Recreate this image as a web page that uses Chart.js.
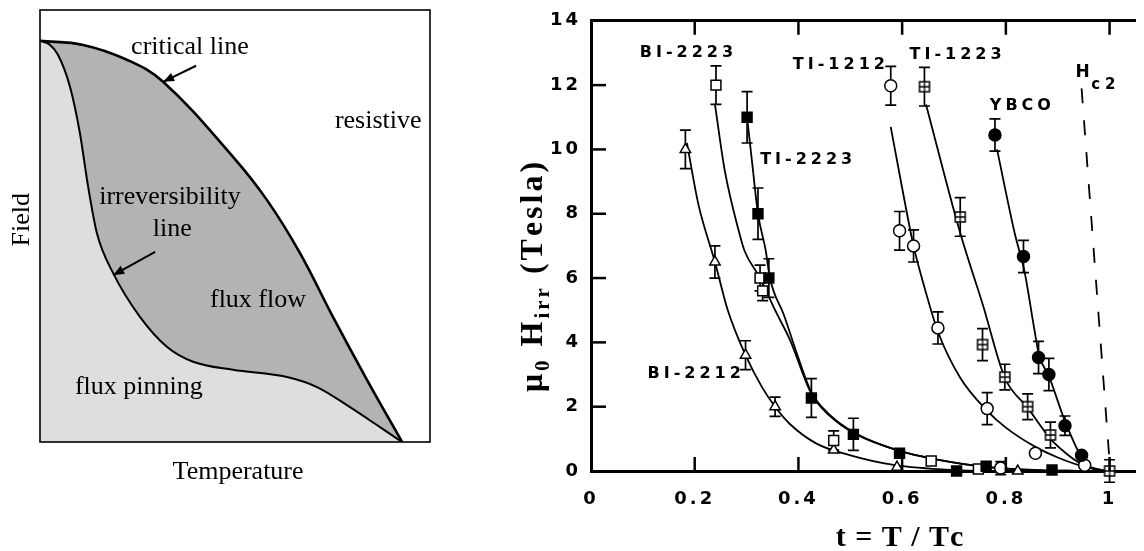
<!DOCTYPE html>
<html><head><meta charset="utf-8">
<script src="https://cdn.jsdelivr.net/npm/chart.js@4.4.0/dist/chart.umd.min.js"></script>
<style>
html,body{margin:0;padding:0;background:#fff;width:1144px;height:551px;overflow:hidden}
#left{position:absolute;left:0;top:0}
#right{position:absolute;left:470px;top:0}
</style></head><body>
<canvas id="left" width="470" height="551"></canvas>
<canvas id="right" width="674" height="551"></canvas>
<script>
// ================= LEFT PANEL (schematic phase diagram) =================
const critT = [0, 0.119, 0.24, 0.34, 0.533, 0.627, 0.718, 0.809, 0.903, 1];
const critH = [1, 0.99, 0.953, 0.898, 0.711, 0.603, 0.471, 0.312, 0.155, 0];
const irrT = [0, 0.025, 0.05, 0.083, 0.11, 0.133, 0.157, 0.202, 0.276, 0.351, 0.423, 0.533, 0.682, 0.765, 0.856, 0.939, 1];
const irrH = [1, 0.992, 0.965, 0.885, 0.771, 0.636, 0.521, 0.421, 0.312, 0.237, 0.2, 0.18, 0.162, 0.137, 0.087, 0.037, 0];

// ================= RIGHT PANEL (irreversibility fields) =================
const xTickLabels = ['0', '0.2', '0.4', '0.6', '0.8', '1'];
const yTickLabels = ['0', '2', '4', '6', '8', '10', '12', '14'];

// measured points
const bi2212T = [0.182, 0.239, 0.298, 0.355, 0.468, 0.590, 0.823];
const bi2212H = [10.0, 6.5, 3.6, 2.0, 0.65, 0.12, 0.0];
const bi2212E = [0.6, 0.5, 0.45, 0.3, 0, 0, 0];

const bi2223T = [0.241, 0.326, 0.331, 0.468, 0.656, 0.747];
const bi2223H = [12.0, 6.0, 5.6, 0.95, 0.31, 0.06];
const bi2223E = [0.6, 0.4, 0.3, 0.3, 0, 0];

const tl2223T = [0.301, 0.322, 0.343, 0.425, 0.506, 0.595, 0.705, 0.762, 0.889];
const tl2223H = [11.0, 8.0, 6.0, 2.27, 1.14, 0.55, 0.0, 0.15, 0.03];
const tl2223E = [0.8, 0.8, 0.6, 0.6, 0.5, 0, 0, 0, 0];

const tl1212T = [0.578, 0.595, 0.622, 0.669, 0.764, 0.79, 0.857, 0.952];
const tl1212H = [11.98, 7.47, 7.0, 4.45, 1.94, 0.09, 0.55, 0.18];
const tl1212E = [0.6, 0.6, 0.5, 0.5, 0.5, 0.2, 0, 0];

const tl1223T = [0.643, 0.712, 0.755, 0.798, 0.842, 0.886, 1.0];
const tl1223H = [11.95, 7.9, 3.93, 2.92, 2.0, 1.12, 0.0];
const tl1223E = [0.6, 0.6, 0.5, 0.4, 0.4, 0.4, 0.35];

const ybcoT = [0.779, 0.834, 0.863, 0.883, 0.914, 0.946];
const ybcoH = [10.45, 6.67, 3.53, 3.0, 1.41, 0.49];
const ybcoE = [0.5, 0.5, 0.5, 0.5, 0.3, 0];

// fitted curves
const fitBi2212T = [0.185, 0.207, 0.239, 0.263, 0.298, 0.33, 0.355, 0.383, 0.434, 0.497, 0.586, 0.70, 0.80];
const fitBi2212H = [10.2, 8.3, 6.5, 5.04, 3.6, 2.6, 2.0, 1.47, 0.86, 0.5, 0.18, 0.03, 0.0];
const fitBi2223T = [0.239, 0.258, 0.286, 0.296, 0.326, 0.355, 0.383, 0.425, 0.46, 0.51, 0.60, 0.66, 0.76, 0.86, 0.95];
const fitBi2223H = [11.4, 9.34, 7.4, 6.85, 6.0, 5.0, 4.1, 2.4, 1.72, 1.15, 0.6, 0.38, 0.13, 0.03, 0.0];
const fitTl2223T = [0.301, 0.312, 0.322, 0.337, 0.345, 0.372, 0.396, 0.425, 0.46, 0.51, 0.60, 0.66, 0.76, 0.86, 0.95];
const fitTl2223H = [11.0, 9.4, 8.0, 6.85, 6.0, 4.85, 3.7, 2.45, 1.75, 1.17, 0.6, 0.38, 0.13, 0.03, 0.0];
const fitTl1212T = [0.578, 0.60, 0.622, 0.645, 0.669, 0.712, 0.764, 0.80, 0.857, 0.90, 0.952, 1.0];
const fitTl1212H = [10.7, 8.8, 7.0, 5.6, 4.33, 2.9, 1.87, 1.35, 0.75, 0.42, 0.13, 0.0];
const fitTl1223T = [0.646, 0.712, 0.756, 0.798, 0.842, 0.886, 0.92, 0.946, 0.99];
const fitTl1223H = [11.4, 7.4, 5.15, 2.9, 1.97, 1.0, 0.5, 0.22, 0.0];
const fitYbcoT = [0.783, 0.817, 0.836, 0.855, 0.864, 0.883, 0.914, 0.946, 0.97, 0.99];
const fitYbcoH = [10.0, 7.4, 6.2, 4.4, 3.6, 2.95, 1.55, 0.43, 0.05, 0.0];
const hc2T = [0.946, 0.999];
const hc2H = [11.9, 0.5];

// text annotations (anchor in data units)
const seriesLabels = [
  {text: 'BI-2223', t: 0.184, h: 13.0},
  {text: 'TI-2223', t: 0.415, h: 9.68},
  {text: 'TI-1212', t: 0.478, h: 12.63},
  {text: 'TI-1223', t: 0.703, h: 12.93},
  {text: 'YBCO', t: 0.828, h: 11.34},
  {text: 'BI-2212', t: 0.199, h: 3.01}
];

function pts(ts, hs) { return ts.map((t, i) => ({x: t, y: hs[i]})); }

function drawSpaced(ctx, text, x, y, sp) {
  const chars = [...text];
  const w = chars.map(c => ctx.measureText(c).width);
  const total = w.reduce((a, b) => a + b, 0) + sp * (chars.length - 1);
  let cx = x - total / 2;
  ctx.textAlign = 'left';
  chars.forEach((c, i) => { ctx.fillText(c, cx, y); cx += w[i] + sp; });
}

function arrow(ctx, x0, y0, x1, y1) {
  ctx.beginPath(); ctx.moveTo(x0, y0); ctx.lineTo(x1, y1); ctx.stroke();
  const a = Math.atan2(y1 - y0, x1 - x0), L = 11, W = 4.5;
  ctx.beginPath();
  ctx.moveTo(x1, y1);
  ctx.lineTo(x1 - L * Math.cos(a) + W * Math.sin(a), y1 - L * Math.sin(a) - W * Math.cos(a));
  ctx.lineTo(x1 - L * Math.cos(a) - W * Math.sin(a), y1 - L * Math.sin(a) + W * Math.cos(a));
  ctx.closePath(); ctx.fill();
}

// ---------- left chart ----------
const leftDecor = {
  id: 'leftDecor',
  afterDraw(chart) {
    const ctx = chart.ctx, a = chart.chartArea, X = chart.scales.x, Y = chart.scales.y;
    const px = v => X.getPixelForValue(v), py = v => Y.getPixelForValue(v);
    ctx.save();
    ctx.strokeStyle = '#000'; ctx.lineWidth = 1.6;
    ctx.strokeRect(a.left, a.top, a.right - a.left, a.bottom - a.top);
    ctx.fillStyle = '#000';
    ctx.font = '26px "Liberation Serif", "Times New Roman", serif';
    ctx.textAlign = 'center'; ctx.textBaseline = 'middle';
    ctx.fillText('critical line', px(0.414), py(0.985));
    ctx.fillText('resistive', px(0.934), py(0.80));
    ctx.fillText('irreversibility', px(0.359), py(0.611));
    ctx.fillText('line', px(0.365), py(0.531));
    ctx.fillText('flux flow', px(0.602), py(0.354));
    ctx.fillText('flux pinning', px(0.273), py(0.137));
    ctx.fillText('Temperature', px(0.547), py(-0.075));
    ctx.save();
    ctx.translate(px(-0.05), py(0.554)); ctx.rotate(-Math.PI / 2);
    ctx.fillText('Field', 0, 0);
    ctx.restore();
    ctx.lineWidth = 2;
    arrow(ctx, px(0.431), py(0.938), px(0.340), py(0.898));
    arrow(ctx, px(0.318), py(0.474), px(0.202), py(0.416));
    ctx.restore();
  }
};

new Chart(document.getElementById('left'), {
  type: 'line',
  data: {datasets: [
    {data: pts(irrT, irrH), borderColor: '#000', borderWidth: 2, backgroundColor: '#dedede', fill: 'origin',
     pointRadius: 0, cubicInterpolationMode: 'monotone'},
    {data: pts(critT, critH), borderColor: '#000', borderWidth: 2.6, backgroundColor: '#b3b3b3', fill: 'origin',
     pointRadius: 0, tension: 0.4}
  ]},
  options: {
    responsive: false, animation: false, events: [],
    layout: {padding: {left: 40, right: 40, top: 10, bottom: 109}},
    scales: {
      x: {type: 'linear', min: 0, max: 1.077, display: false},
      y: {type: 'linear', min: 0, max: 1.077, display: false}
    },
    plugins: {legend: {display: false}, tooltip: {enabled: false}}
  },
  plugins: [leftDecor]
});

// ---------- right chart ----------
function crossedSquare() {
  const c = document.createElement('canvas'); c.width = 14; c.height = 14;
  const g = c.getContext('2d');
  g.fillStyle = '#fff'; g.fillRect(2, 2, 10, 10);
  g.strokeStyle = '#000'; g.lineWidth = 1.5; g.strokeRect(2, 2, 10, 10);
  g.lineWidth = 1.3;
  g.beginPath(); g.moveTo(7, 2); g.lineTo(7, 12); g.moveTo(2, 7); g.lineTo(12, 7); g.stroke();
  return c;
}

function markers(ts, hs, errs, style, fillColor, radius) {
  return {data: pts(ts, hs), errors: errs, showLine: false, pointStyle: style, pointRadius: radius,
    pointBorderWidth: 1.5, pointBorderColor: '#000', pointBackgroundColor: fillColor, clip: false};
}
function curve(ts, hs, dash) {
  return {data: pts(ts, hs), borderColor: '#000', borderWidth: 1.8, pointRadius: 0, fill: false,
    cubicInterpolationMode: 'monotone', borderDash: dash || []};
}

const rightDecor = {
  id: 'rightDecor',
  beforeDraw(chart) { chart.ctx.letterSpacing = '3px'; },
  beforeDatasetsDraw(chart) {
    const ctx = chart.ctx, X = chart.scales.x, Y = chart.scales.y;
    ctx.save();
    ctx.letterSpacing = '0px';
    ctx.strokeStyle = '#000'; ctx.lineWidth = 1.7;
    chart.data.datasets.forEach(ds => {
      if (!ds.errors) return;
      ds.data.forEach((p, i) => {
        const e = ds.errors[i]; if (!e) return;
        const x = X.getPixelForValue(p.x), y0 = Y.getPixelForValue(p.y - e), y1 = Y.getPixelForValue(p.y + e);
        ctx.beginPath();
        ctx.moveTo(x, y0); ctx.lineTo(x, y1);
        ctx.moveTo(x - 5.5, y0); ctx.lineTo(x + 5.5, y0);
        ctx.moveTo(x - 5.5, y1); ctx.lineTo(x + 5.5, y1);
        ctx.stroke();
      });
    });
    ctx.restore();
  },
  afterDraw(chart) {
    const ctx = chart.ctx, a = chart.chartArea, X = chart.scales.x, Y = chart.scales.y, X2 = chart.scales.x2;
    ctx.save();
    ctx.letterSpacing = '0px';
    ctx.strokeStyle = '#000'; ctx.lineWidth = 2.5;
    // inward tick marks
    X.ticks.forEach(t => {
      if (t.value === 0) return;
      const x = X.getPixelForValue(t.value);
      ctx.beginPath(); ctx.moveTo(x, a.bottom); ctx.lineTo(x, a.bottom - 14); ctx.stroke();
    });
    X2.ticks.forEach(t => {
      if (t.value === 0) return;
      const x = X2.getPixelForValue(t.value);
      ctx.beginPath(); ctx.moveTo(x, a.top); ctx.lineTo(x, a.top + 14); ctx.stroke();
    });
    Y.ticks.forEach(t => {
      if (t.value === 0 || t.value === 14) return;
      const y = Y.getPixelForValue(t.value);
      ctx.beginPath(); ctx.moveTo(a.left, y); ctx.lineTo(a.left + 15, y); ctx.stroke();
    });
    // series labels
    ctx.fillStyle = '#000'; ctx.textBaseline = 'middle';
    ctx.font = 'bold 16px "DejaVu Sans", sans-serif';
    seriesLabels.forEach(l => drawSpaced(ctx, l.text, X.getPixelForValue(l.t), Y.getPixelForValue(l.h), 4));
    ctx.font = 'bold 17px "DejaVu Sans", sans-serif';
    drawSpaced(ctx, 'H', X.getPixelForValue(0.948), Y.getPixelForValue(12.38), 0);
    ctx.font = 'bold 15px "DejaVu Sans", sans-serif';
    drawSpaced(ctx, 'c2', X.getPixelForValue(0.988), Y.getPixelForValue(12.0), 5);
    // x title
    ctx.font = 'bold 30px "Liberation Serif", "Times New Roman", serif';
    ctx.textBaseline = 'middle';
    drawSpaced(ctx, 't = T / Tc', X.getPixelForValue(0.595), 538, 1);
    // y title with subscripts
    const big = 'bold 32px "Liberation Serif", "Times New Roman", serif';
    const small = 'bold 21px "Liberation Serif", "Times New Roman", serif';
    const parts = [{s: 'μ', f: big, d: 0}, {s: '0', f: small, d: 7}, {s: ' H', f: big, d: 0},
                   {s: 'irr', f: small, d: 7}, {s: ' (Tesla)', f: big, d: 0}];
    const sp = 3;
    let total = 0;
    parts.forEach(p => { ctx.font = p.f; [...p.s].forEach(c => total += ctx.measureText(c).width + sp); });
    total -= sp;
    ctx.translate(542 - 470, 277); ctx.rotate(-Math.PI / 2);
    ctx.textBaseline = 'alphabetic'; ctx.textAlign = 'left';
    let cx = -total / 2;
    parts.forEach(p => {
      ctx.font = p.f;
      [...p.s].forEach(c => { ctx.fillText(c, cx, p.d); cx += ctx.measureText(c).width + sp; });
    });
    ctx.restore();
  }
};

const tickFont = {family: '"DejaVu Sans", sans-serif', weight: 'bold', size: 18};

new Chart(document.getElementById('right'), {
  type: 'line',
  data: {datasets: [
    markers(ybcoT, ybcoH, ybcoE, 'circle', '#000', 6),
    markers(tl1223T, tl1223H, tl1223E, crossedSquare(), '#fff', 7),
    markers(tl1212T, tl1212H, tl1212E, 'circle', '#fff', 6),
    markers(tl2223T, tl2223H, tl2223E, 'rect', '#000', 7),
    markers(bi2223T, bi2223H, bi2223E, 'rect', '#fff', 7),
    markers(bi2212T, bi2212H, bi2212E, 'triangle', '#fff', 6),
    curve(fitBi2212T, fitBi2212H),
    curve(fitBi2223T, fitBi2223H),
    curve(fitTl2223T, fitTl2223H),
    curve(fitTl1212T, fitTl1212H),
    curve(fitTl1223T, fitTl1223H),
    curve(fitYbcoT, fitYbcoH),
    curve(hc2T, hc2H, [15, 17])
  ]},
  options: {
    responsive: false, animation: false, events: [],
    layout: {padding: 0},
    scales: {
      x: {type: 'linear', position: 'bottom', min: 0, max: 1.05,
          afterFit: s => { s.height = 80; },
          ticks: {stepSize: 0.2, includeBounds: false, padding: 18, color: '#000', font: tickFont,
                  maxRotation: 0, autoSkip: false, callback: (v, i) => xTickLabels[i]},
          grid: {drawOnChartArea: false, drawTicks: false}, border: {color: '#000', width: 3}},
      x2: {type: 'linear', position: 'top', min: 0, max: 1.05,
          afterFit: s => { s.height = 16; },
          ticks: {display: false, stepSize: 0.2, includeBounds: false},
          grid: {drawOnChartArea: false, drawTicks: false}, border: {color: '#000', width: 3}},
      y: {type: 'linear', min: 0, max: 14,
          afterFit: s => { s.width = 121; },
          ticks: {stepSize: 2, padding: 10, color: '#000', font: tickFont, callback: (v, i) => yTickLabels[i]},
          grid: {drawOnChartArea: false, drawTicks: false}, border: {color: '#000', width: 3}}
    },
    plugins: {legend: {display: false}, tooltip: {enabled: false}}
  },
  plugins: [rightDecor]
});
</script>
</body></html>
